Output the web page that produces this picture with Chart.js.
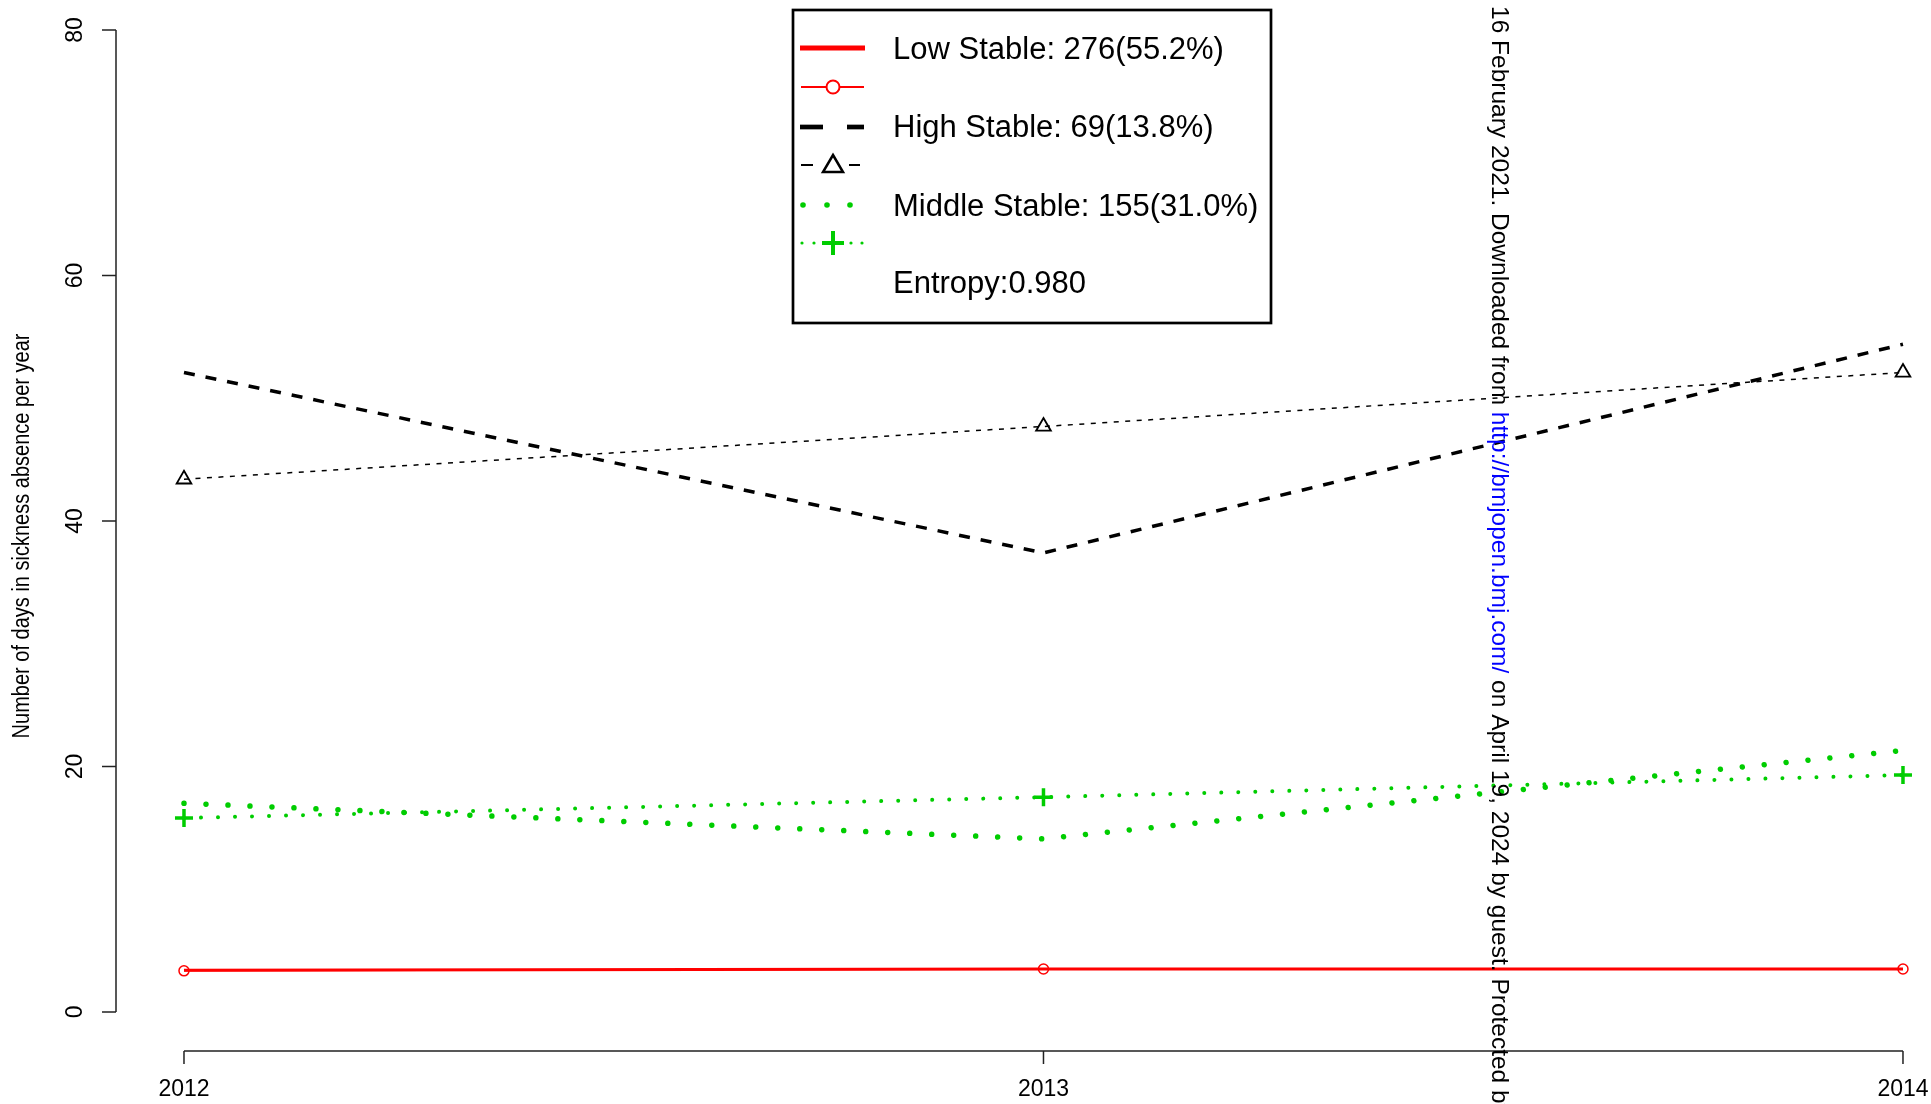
<!DOCTYPE html>
<html lang="en">
<head>
<meta charset="UTF-8">
<title>Sickness absence trajectories</title>
<script src="https://cdn.jsdelivr.net/npm/chart.js"></script>
<style>
  html, body { margin: 0; padding: 0; background: #fff; }
  #chart { display: block; }
</style>
</head>
<body>
<canvas id="chart" width="1931" height="1104"></canvas>
<script>
// data
const years = [2012, 2013, 2014];
const yTicks = [0, 20, 40, 60, 80];

const lowEst = [3.4, 3.5, 3.5];
const lowObs = [3.35, 3.5, 3.5];
const highEst = [52.1, 37.4, 54.4];
const highObs = [43.4, 47.7, 52.1];
const midEst = [17.0, 14.1, 21.3];
const midObs = [15.8, 17.5, 19.3];

const legendLabels = ['Low Stable: 276(55.2%)', 'High Stable: 69(13.8%)', 'Middle Stable: 155(31.0%)'];
const entropyLabel = 'Entropy:0.980';
const yTitle = 'Number of days in sickness absence per year';
const watermark = ['16 February 2021. Downloaded from ', 'http://bmjopen.bmj.com/', ' on April 19, 2024 by guest. Protected by copyright.'];

const RED = '#ff0000';
const GREEN = '#00cd00';
const FONT = '"Liberation Sans", Arial, sans-serif';

const pts = vals => years.map((y, i) => ({ x: y, y: vals[i] }));

function seg(ctx, x1, y1, x2, y2) {
  ctx.beginPath(); ctx.moveTo(x1, y1); ctx.lineTo(x2, y2); ctx.stroke();
}

// R style axes, legend box and the side watermark
const rStyle = {
  id: 'rStyle',
  afterDraw(chart) {
    const ctx = chart.ctx;
    const xs = chart.scales.x, ys = chart.scales.y;
    const area = chart.chartArea;
    ctx.save();

    // axes
    ctx.strokeStyle = '#222';
    ctx.lineWidth = 1.5;
    const axY = area.bottom;
    ctx.beginPath();
    ctx.moveTo(xs.getPixelForValue(years[0]), axY);
    ctx.lineTo(xs.getPixelForValue(years[years.length - 1]), axY);
    years.forEach(v => {
      const px = xs.getPixelForValue(v);
      ctx.moveTo(px, axY); ctx.lineTo(px, axY + 13);
    });
    const axX = area.left;
    ctx.moveTo(axX, ys.getPixelForValue(yTicks[0]));
    ctx.lineTo(axX, ys.getPixelForValue(yTicks[yTicks.length - 1]));
    yTicks.forEach(v => {
      const py = ys.getPixelForValue(v);
      ctx.moveTo(axX, py); ctx.lineTo(axX - 14, py);
    });
    ctx.stroke();

    ctx.fillStyle = '#000';
    ctx.font = '23px ' + FONT;
    ctx.textAlign = 'center';
    ctx.textBaseline = 'middle';
    years.forEach(v => ctx.fillText(String(v), xs.getPixelForValue(v), 1090));
    yTicks.forEach(v => {
      ctx.save();
      ctx.translate(76, ys.getPixelForValue(v));
      ctx.rotate(-Math.PI / 2);
      ctx.fillText(String(v), 0, 0);
      ctx.restore();
    });
    // axis title, a bit condensed like the original
    ctx.save();
    ctx.font = '23px ' + FONT;
    ctx.translate(23, 536);
    ctx.rotate(-Math.PI / 2);
    ctx.scale(0.87, 1);
    ctx.fillText(yTitle, 0, 0);
    ctx.restore();

    // legend box
    ctx.fillStyle = '#fff';
    ctx.fillRect(793, 10, 478, 313);
    ctx.strokeStyle = '#000';
    ctx.lineWidth = 2.7;
    ctx.strokeRect(793, 10, 478, 313);

    ctx.lineCap = 'butt';
    // low stable
    ctx.strokeStyle = RED;
    ctx.lineWidth = 5;
    seg(ctx, 800, 48, 865, 48);
    ctx.lineWidth = 2;
    seg(ctx, 801, 87, 864, 87);
    ctx.fillStyle = '#fff';
    ctx.beginPath(); ctx.arc(833, 87, 6.5, 0, Math.PI * 2); ctx.fill(); ctx.stroke();

    // high stable
    ctx.strokeStyle = '#000';
    ctx.lineWidth = 4.7;
    seg(ctx, 800, 127, 823, 127);
    seg(ctx, 847, 127, 864, 127);
    ctx.lineWidth = 2;
    seg(ctx, 801, 165, 813, 165);
    seg(ctx, 849, 165, 860, 165);
    ctx.lineWidth = 2.5;
    ctx.beginPath();
    ctx.moveTo(833, 155); ctx.lineTo(843, 172); ctx.lineTo(823, 172); ctx.closePath();
    ctx.stroke();

    // middle stable
    ctx.fillStyle = GREEN;
    [803, 827, 850].forEach(x => { ctx.beginPath(); ctx.arc(x, 205, 2.8, 0, Math.PI * 2); ctx.fill(); });
    [802, 814, 851, 862].forEach(x => { ctx.beginPath(); ctx.arc(x, 243, 1.6, 0, Math.PI * 2); ctx.fill(); });
    ctx.strokeStyle = GREEN;
    ctx.lineWidth = 4;
    seg(ctx, 822, 243, 844, 243);
    seg(ctx, 833, 231, 833, 255);

    ctx.fillStyle = '#000';
    ctx.font = '31px ' + FONT;
    ctx.textAlign = 'left';
    ctx.textBaseline = 'alphabetic';
    ctx.fillText(legendLabels[0], 893, 59);
    ctx.fillText(legendLabels[1], 893, 137);
    ctx.fillText(legendLabels[2], 893, 216);
    ctx.fillText(entropyLabel, 893, 293);

    // watermark down the right part of the page
    ctx.save();
    ctx.font = '24.5px ' + FONT;
    ctx.textBaseline = 'middle';
    ctx.translate(1499, 6);
    ctx.rotate(Math.PI / 2);
    let off = 0;
    watermark.forEach((t, i) => {
      ctx.fillStyle = i === 1 ? '#0000ff' : '#000';
      ctx.fillText(t, off, 0);
      off += ctx.measureText(t).width;
    });
    ctx.restore();

    ctx.restore();
  }
};

new Chart(document.getElementById('chart').getContext('2d'), {
  type: 'line',
  data: {
    datasets: [
      { label: 'Low est', data: pts(lowEst), borderColor: RED, borderWidth: 3, pointRadius: 0 },
      { label: 'Low obs', data: pts(lowObs), borderColor: RED, borderWidth: 1.5,
        pointStyle: 'circle', pointRadius: 5, pointBorderWidth: 1.5,
        pointBorderColor: RED, pointBackgroundColor: 'rgba(0,0,0,0)' },
      { label: 'High est', data: pts(highEst), borderColor: '#000', borderWidth: 3.5,
        borderDash: [11, 11], pointRadius: 0 },
      { label: 'High obs', data: pts(highObs), borderColor: '#000', borderWidth: 1.5,
        borderDash: [5, 6.5], pointStyle: 'triangle', pointRadius: 8.5, pointBorderWidth: 1.8,
        pointBorderColor: '#000', pointBackgroundColor: 'rgba(0,0,0,0)' },
      { label: 'Middle est', data: pts(midEst), borderColor: GREEN, borderWidth: 5.5,
        borderDash: [0.01, 22], borderCapStyle: 'round', pointRadius: 0 },
      { label: 'Middle obs', data: pts(midObs), borderColor: GREEN, borderWidth: 4,
        borderDash: [0.01, 17], borderCapStyle: 'round', pointStyle: 'cross', pointRadius: 9,
        pointBorderWidth: 3.5, pointBorderColor: GREEN, pointBackgroundColor: GREEN }
    ]
  },
  options: {
    responsive: false,
    devicePixelRatio: 1,
    animation: false,
    clip: false,
    layout: { autoPadding: false, padding: { left: 116, top: 30, right: 0, bottom: 53 } },
    scales: {
      x: { type: 'linear', display: false, min: 2011.9209, max: 2014.0326 },
      y: { type: 'linear', display: false, min: -3.18, max: 80 }
    },
    plugins: { legend: { display: false }, tooltip: { enabled: false } }
  },
  plugins: [rStyle]
});
</script>
</body>
</html>
